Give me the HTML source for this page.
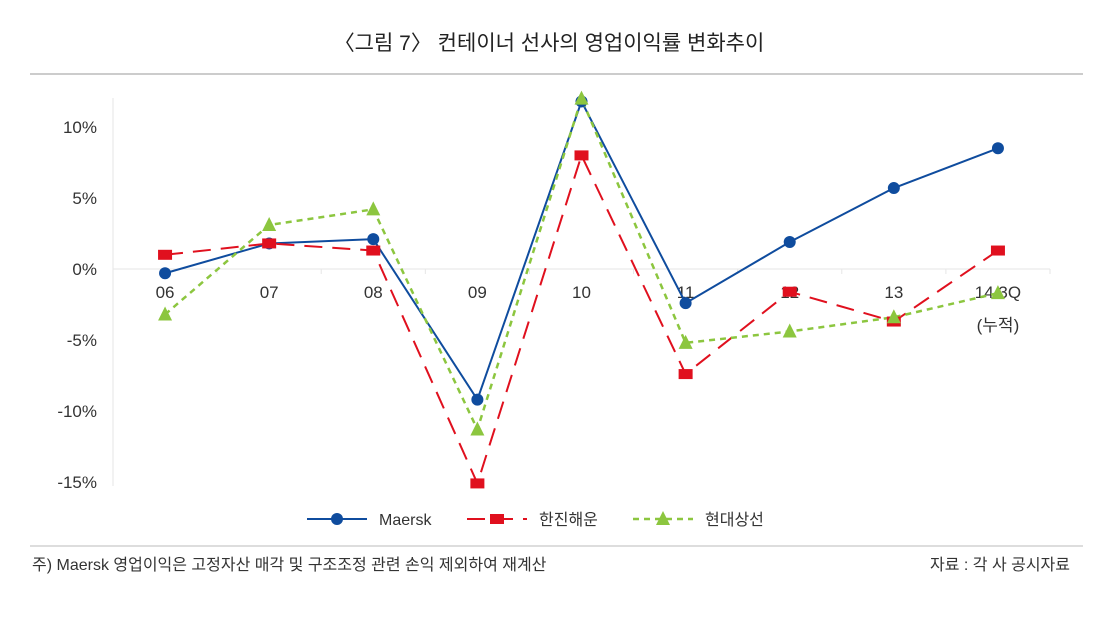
<!DOCTYPE html>
<html><head><meta charset="utf-8">
<style>
body{margin:0;background:#fff;width:1099px;height:612px;overflow:hidden;font-family:"Liberation Sans","Noto Sans CJK KR",sans-serif;}
svg text{font-family:"Liberation Sans","Noto Sans CJK KR",sans-serif;}
</style></head>
<body>
<svg id="chart" width="1099" height="612">
<text x="549" y="50" text-anchor="middle" font-size="21" fill="#222">〈그림 7〉 컨테이너 선사의 영업이익률 변화추이</text>
<line x1="30" y1="74" x2="1083" y2="74" stroke="#bbb" stroke-width="1.5"/>
<line x1="30" y1="546" x2="1083" y2="546" stroke="#bbb" stroke-width="1"/>
<text x="32" y="570" font-size="16" fill="#333">주) Maersk 영업이익은 고정자산 매각 및 구조조정 관련 손익 제외하여 재계산</text>
<text x="1070" y="570" text-anchor="end" font-size="16" fill="#333">자료 : 각 사 공시자료</text>
<g id="plot"></g>
<g id="legend"></g>
</svg>
<script>
const categories=["06","07","08","09","10","11","12","13","14.3Q"];
const yTicks=[10,5,0,-5,-10,-15];
const yTickLabels=["10%","5%","0%","-5%","-10%","-15%"];
const maersk=[-0.3,1.8,2.1,-9.2,11.8,-2.4,1.9,5.7,8.5];
const hanjin=[1.0,1.8,1.3,-15.1,8.0,-7.4,-1.6,-3.7,1.3];
const hyundai=[-3.2,3.1,4.2,-11.3,12.0,-5.2,-4.4,-3.4,-1.7];

const NS="http://www.w3.org/2000/svg";
const X0=113,X1=1050,bw=(X1-X0)/categories.length;
const y=v=>269-v*14.2;
const x=i=>X0+bw*(i+0.5);
const plot=document.getElementById('plot');
function mk(tag,attrs,parent){const e=document.createElementNS(NS,tag);for(const k in attrs)e.setAttribute(k,attrs[k]);(parent||plot).appendChild(e);return e;}

const ax=mk('line',{x1:X0,y1:98,x2:X0,y2:486,stroke:'#e6e6e6'});


yTicks.forEach((t,i)=>{
  const tx=mk('text',{x:97,y:y(t)+6,'text-anchor':'end','font-size':17,fill:'#333'});
  tx.textContent=yTickLabels[i];
  
  
});
const xa=mk('line',{x1:X0,y1:y(0),x2:X1,y2:y(0),stroke:'#e6e6e6'});


for(let i=0;i<=categories.length;i++){
  const tk=mk('line',{x1:X0+bw*i,y1:y(0),x2:X0+bw*i,y2:y(0)+5,stroke:'#e6e6e6'});
  
  
}
categories.forEach((c,i)=>{
  const tx=mk('text',{x:x(i),y:y(0)+29,'text-anchor':'middle','font-size':17,fill:'#333'});
  tx.textContent=c;
  
  
});
const sub=mk('text',{x:x(8),y:y(0)+62,'text-anchor':'middle','font-size':17,fill:'#333'});
sub.textContent='(누적)';



function marker(kind,cx,cy,color,parent){
  let e;
  if(kind==='circle') e=mk('circle',{cx:cx,cy:cy,r:6,fill:color},parent);
  else if(kind==='square') e=mk('rect',{x:cx-7,y:cy-5,width:14,height:10,fill:color},parent);
  else e=mk('polygon',{points:`${cx},${cy-8} ${cx+7},${cy+6} ${cx-7},${cy+6}`,fill:color},parent);
  return e;
}
const series=[
 {name:'Maersk',data:maersk,color:'#0f4c9e',dash:'',w:2,m:'circle',key:'maersk'},
 {name:'한진해운',data:hanjin,color:'#e0101e',dash:'18,10',w:2,m:'square',key:'hanjin'},
 {name:'현대상선',data:hyundai,color:'#8cc63f',dash:'6,5',w:2.5,m:'triangle',key:'hyundai'}
];
series.forEach(s=>{
  const p=mk('polyline',{points:s.data.map((v,i)=>x(i)+','+y(v)).join(' '),fill:'none',stroke:s.color,'stroke-width':s.w,'stroke-dasharray':s.dash});
  
  
});
series.forEach(s=>{
  s.data.forEach((v,i)=>{
    const m=marker(s.m,x(i),y(v),s.color);
    
    
  });
});
const lg=document.getElementById('legend');
const lx=[307,467,633],tx=[380,525,705];
series.forEach((s,i)=>{
  const l=mk('line',{x1:lx[i],y1:519,x2:lx[i]+60,y2:519,stroke:s.color,'stroke-width':s.w,'stroke-dasharray':s.dash},lg);
  
  
  const m=marker(s.m,lx[i]+30,519,s.color,lg);
  
  
  const t=mk('text',{x:lx[i]+72,y:525,'font-size':16,fill:'#333'},lg);
  t.textContent=s.name;
  
  
});
</script>
</body></html>
